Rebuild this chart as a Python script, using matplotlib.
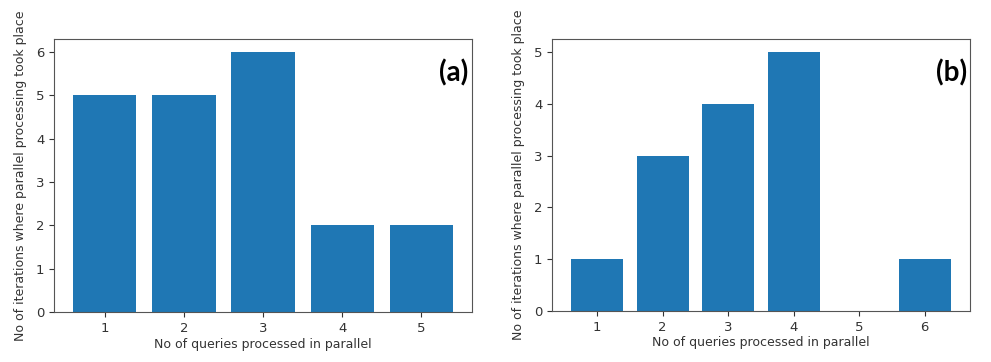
import numpy as np
import matplotlib
matplotlib.use('Agg')
import matplotlib.pyplot as plt

# data
queries_a = [1, 2, 3, 4, 5]
counts_a = [5, 5, 6, 2, 2]
queries_b = [1, 2, 3, 4, 5, 6]
counts_b = [1, 3, 4, 5, 0, 1]

xlab = 'No of queries processed in parallel'
ylab = 'No of iterations where parallel processing took place'

fig = plt.figure(figsize=(9.91, 3.62), dpi=100)
ax1 = fig.add_axes([0.0545, 0.138, 0.4218, 0.754])
ax2 = fig.add_axes([0.557, 0.141, 0.4218, 0.751])

for ax, q, c, tag in [(ax1, queries_a, counts_a, '(a)'), (ax2, queries_b, counts_b, '(b)')]:
    ax.bar(q, c, color='#1f77b4')
    ax.set_xticks(q)
    ax.set_xlabel(xlab, fontsize=9, color='#333333', labelpad=2)
    ax.set_ylabel(ylab, fontsize=9, color='#333333', labelpad=6)
    ax.tick_params(labelsize=9.5, colors='#333333')
    for s in ax.spines.values():
        s.set_color('#555555')
    ax.text(0.955, 0.875, tag, transform=ax.transAxes, ha='center', va='center',
            fontsize=20, fontweight='bold', family='Lato')

fig.savefig('out.png', dpi=100)
